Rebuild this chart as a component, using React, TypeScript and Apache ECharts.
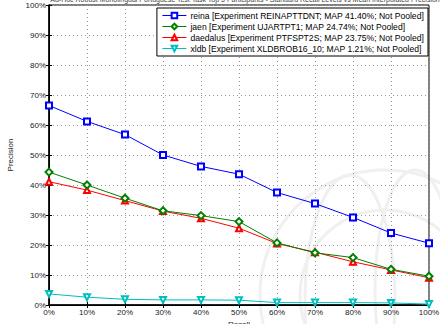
import React, { useEffect, useRef } from "react";
import * as echarts from "echarts";

const recallLevels = [0, 10, 20, 30, 40, 50, 60, 70, 80, 90, 100];
const yTicks = [0, 10, 20, 30, 40, 50, 60, 70, 80, 90, 100];

const seriesNames = [
  "reina [Experiment REINAPTTDNT; MAP 41.40%; Not Pooled]",
  "jaen [Experiment UJARTPT1; MAP 24.74%; Not Pooled]",
  "daedalus [Experiment PTFSPT2S; MAP 23.75%; Not Pooled]",
  "xldb [Experiment XLDBROB16_10; MAP 1.21%; Not Pooled]",
];

const reinaValues = [66.5, 61.2, 56.8, 50.0, 46.2, 43.6, 37.5, 33.8, 29.2, 24.0, 20.6];
const jaenValues = [44.3, 40.0, 35.6, 31.4, 29.8, 27.8, 20.7, 17.4, 15.8, 11.9, 9.6];
const daedalusValues = [41.1, 38.3, 34.8, 31.3, 28.9, 25.6, 20.5, 17.6, 14.4, 11.7, 9.1];
const xldbValues = [3.7, 2.6, 1.9, 1.7, 1.7, 1.6, 0.8, 0.8, 0.8, 0.7, 0.3];

const seriesValues = [reinaValues, jaenValues, daedalusValues, xldbValues];
const seriesColors = ["#0000ff", "#008000", "#ff0000", "#00bfbf"];
const seriesSymbols = ["emptyRect", "emptyDiamond", "emptyTriangle", "emptyTriangle"];
const seriesRotate = [0, 0, 0, 180];

const titleText =
  "Ad-Hoc Robust Monolingual Portuguese Test Task Top 5 Participants - Standard Recall Levels vs Mean Interpolated Precision";

const FONT = "Liberation Sans, Arial, Helvetica, sans-serif";

export default function App() {
  const ref = useRef<HTMLDivElement>(null);
  useEffect(() => {
    if (!ref.current) return;
    const chart = echarts.init(ref.current, null, { renderer: "svg" });
    const dotted = { color: "#9a9a9a", width: 1, type: [1, 3] as any };
    const wm = { fill: "none", stroke: "#f0f0f0", lineWidth: 3 };
    const option: any = {
      animation: false,
      backgroundColor: "#ffffff",
      textStyle: { fontFamily: FONT },
      title: {
        text: titleText,
        left: 240,
        textAlign: "center",
        top: -9,
        textStyle: { fontSize: 7, fontWeight: "normal", color: "#444", fontFamily: FONT },
      },
      graphic: [
        { type: "circle", z: -10, shape: { cx: 385, cy: 295, r: 125 }, style: wm },
        { type: "circle", z: -10, shape: { cx: 385, cy: 295, r: 85 }, style: wm },
        { type: "ellipse", z: -10, shape: { cx: 350, cy: 300, rx: 45, ry: 125 }, style: wm },
        { type: "ellipse", z: -10, shape: { cx: 415, cy: 290, rx: 40, ry: 120 }, style: wm },
      ],
      grid: {
        left: 49,
        right: 11,
        top: 5,
        bottom: 19,
        show: true,
        borderColor: "#000",
        borderWidth: 1,
        backgroundColor: "transparent",
        containLabel: false,
        outerBoundsMode: "none",
      },
      legend: {
        orient: "vertical",
        right: 12,
        top: 8,
        backgroundColor: "#fff",
        borderColor: "#000",
        borderWidth: 1,
        padding: [3, 4, 3, 5],
        itemGap: 2,
        itemWidth: 24,
        itemHeight: 7,
        align: "left",
        lineStyle: { width: 1 },
        textStyle: { fontSize: 8.6, color: "#000", fontFamily: FONT, padding: [0, 0, 0, -1] },
        data: seriesNames,
      },
      xAxis: [
        {
          type: "value",
          min: 0,
          max: 100,
          interval: 10,
          name: "Recall",
          nameLocation: "middle",
          nameGap: 12,
          nameTextStyle: { fontSize: 8, color: "#222", fontFamily: FONT },
          axisLine: { show: true, onZero: false, lineStyle: { color: "#000", width: 1.5 } },
          axisTick: { show: true, inside: true, length: 3, lineStyle: { color: "#000" } },
          axisLabel: { formatter: "{value}%", fontSize: 8, color: "#222", margin: 3, fontFamily: FONT },
          splitLine: { show: true, lineStyle: dotted },
        },
        {
          type: "value",
          position: "top",
          min: 0,
          max: 100,
          interval: 10,
          axisLine: { show: true, lineStyle: { color: "#000", width: 1 } },
          axisTick: { show: true, inside: true, length: 3, lineStyle: { color: "#000" } },
          axisLabel: { show: false },
          splitLine: { show: false },
        },
      ],
      yAxis: [
        {
          type: "value",
          min: 0,
          max: 100,
          interval: 10,
          name: "Precision",
          nameLocation: "middle",
          nameGap: 27,
          nameTextStyle: { fontSize: 8, color: "#222", fontFamily: FONT },
          axisLine: { show: true, onZero: false, lineStyle: { color: "#000", width: 1.5 } },
          axisTick: { show: true, inside: true, length: 3, lineStyle: { color: "#000" } },
          axisLabel: {
            fontSize: 8,
            color: "#222",
            margin: 3,
            fontFamily: FONT,
            formatter: (v: number) => (yTicks.includes(v) ? v + "%" : ""),
          },
          splitLine: { show: true, lineStyle: dotted },
        },
        {
          type: "value",
          position: "right",
          min: 0,
          max: 100,
          interval: 10,
          axisLine: { show: true, lineStyle: { color: "#000", width: 1 } },
          axisTick: { show: true, inside: true, length: 3, lineStyle: { color: "#000" } },
          axisLabel: { show: false },
          splitLine: { show: false },
        },
      ],
      series: seriesNames.map((name, i) => ({
        name,
        type: "line",
        xAxisIndex: 0,
        yAxisIndex: 0,
        data: recallLevels.map((r, j) => [r, seriesValues[i][j]]),
        symbol: seriesSymbols[i],
        symbolRotate: seriesRotate[i],
        symbolSize: i === 1 ? 7 : 6,
        showAllSymbol: true,
        clip: false,
        color: seriesColors[i],
        lineStyle: { color: seriesColors[i], width: 1 },
        z: 3 + (3 - i),
      })),
    };
    chart.setOption(option);
    return () => chart.dispose();
  }, []);
  return (
    <div
      ref={ref}
      style={{ position: "fixed", left: 0, top: 0, width: 440, height: 324, background: "#fff" }}
    />
  );
}
